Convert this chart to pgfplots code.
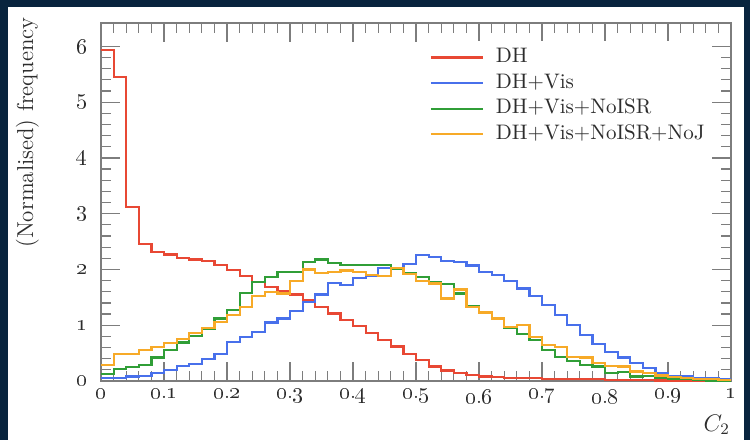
\documentclass[border=0pt]{standalone}
\usepackage{pgfplots}
\pgfplotsset{compat=1.18}
\definecolor{navyframe}{RGB}{8,36,62}
\definecolor{axgray}{RGB}{125,125,125}
\definecolor{labgray}{RGB}{45,45,45}
\definecolor{cred}{RGB}{232,72,52}
\definecolor{cblue}{RGB}{72,112,235}
\definecolor{cgreen}{RGB}{48,158,55}
\definecolor{corange}{RGB}{247,170,40}
\newcommand\osn[1]{\mbox{\oldstylenums{#1}}}
\newcommand\osd[2]{\mbox{\oldstylenums{#1}.\oldstylenums{#2}}}

\pgfplotstableread{
x y
0.00 5.93
0.02 5.45
0.04 3.12
0.06 2.45
0.08 2.32
0.10 2.27
0.12 2.21
0.14 2.18
0.16 2.15
0.18 2.08
0.20 1.99
0.22 1.88
0.24 1.78
0.26 1.69
0.28 1.61
0.30 1.55
0.32 1.45
0.34 1.32
0.36 1.21
0.38 1.10
0.40 0.99
0.42 0.86
0.44 0.74
0.46 0.62
0.48 0.49
0.50 0.37
0.52 0.26
0.54 0.19
0.56 0.14
0.58 0.11
0.60 0.08
0.62 0.07
0.64 0.06
0.66 0.05
0.68 0.05
0.70 0.04
0.72 0.04
0.74 0.03
0.76 0.03
0.78 0.03
0.80 0.02
0.82 0.02
0.84 0.02
0.86 0.02
0.88 0.01
0.90 0.01
0.92 0.01
0.94 0.01
0.96 0.01
0.98 0.01
1.00 0.01
}\dh

\pgfplotstableread{
x y
0.00 0.05
0.02 0.06
0.04 0.08
0.06 0.09
0.08 0.14
0.10 0.20
0.12 0.27
0.14 0.31
0.16 0.40
0.18 0.49
0.20 0.70
0.22 0.79
0.24 0.88
0.26 1.05
0.28 1.12
0.30 1.25
0.32 1.42
0.34 1.55
0.36 1.76
0.38 1.72
0.40 1.85
0.42 1.88
0.44 2.03
0.46 2.03
0.48 2.10
0.50 2.26
0.52 2.22
0.54 2.15
0.56 2.14
0.58 2.07
0.60 1.96
0.62 1.90
0.64 1.79
0.66 1.66
0.68 1.52
0.70 1.36
0.72 1.19
0.74 1.00
0.76 0.82
0.78 0.66
0.80 0.52
0.82 0.42
0.84 0.32
0.86 0.23
0.88 0.15
0.90 0.09
0.92 0.08
0.94 0.06
0.96 0.05
0.98 0.04
1.00 0.04
}\dhvis

\pgfplotstableread{
x y
0.00 0.13
0.02 0.21
0.04 0.25
0.06 0.29
0.08 0.42
0.10 0.55
0.12 0.69
0.14 0.80
0.16 0.94
0.18 1.12
0.20 1.28
0.22 1.58
0.24 1.78
0.26 1.86
0.28 1.96
0.30 1.95
0.32 2.14
0.34 2.18
0.36 2.12
0.38 2.08
0.40 2.08
0.42 2.08
0.44 2.08
0.46 2.01
0.48 1.94
0.50 1.86
0.52 1.77
0.54 1.74
0.56 1.57
0.58 1.34
0.60 1.24
0.62 1.12
0.64 0.96
0.66 0.85
0.68 0.73
0.70 0.55
0.72 0.43
0.74 0.36
0.76 0.28
0.78 0.26
0.80 0.15
0.82 0.16
0.84 0.08
0.86 0.09
0.88 0.06
0.90 0.04
0.92 0.03
0.94 0.02
0.96 0.01
0.98 0.01
1.00 0.01
}\noisr

\pgfplotstableread{
x y
0.00 0.28
0.02 0.48
0.04 0.48
0.06 0.55
0.08 0.61
0.10 0.68
0.12 0.76
0.14 0.86
0.16 0.95
0.18 1.06
0.20 1.18
0.22 1.32
0.24 1.52
0.26 1.60
0.28 1.57
0.30 1.80
0.32 2.00
0.34 1.94
0.36 1.96
0.38 1.98
0.40 1.95
0.42 1.90
0.44 1.88
0.46 2.03
0.48 1.92
0.50 1.80
0.52 1.75
0.54 1.48
0.56 1.64
0.58 1.33
0.60 1.23
0.62 1.12
0.64 0.97
0.66 1.00
0.68 0.79
0.70 0.64
0.72 0.61
0.74 0.43
0.76 0.42
0.78 0.33
0.80 0.27
0.82 0.26
0.84 0.17
0.86 0.14
0.88 0.10
0.90 0.07
0.92 0.05
0.94 0.04
0.96 0.03
0.98 0.02
1.00 0.02
}\noj

\begin{document}
\begin{tikzpicture}[x=1pt,y=1pt]
\fill[navyframe] (0,0) rectangle (375,220);
\fill[white] (4,0) rectangle (372,216.5);
\begin{axis}[
  at={(50.5pt,29.5pt)}, anchor=south west,
  scale only axis, width=315pt, height=179pt,
  xmin=0, xmax=1, ymin=0, ymax=6.42,
  axis line style={draw=axgray, line width=0.7pt},
  every tick/.style={axgray, line width=0.6pt},
  major tick length=9.5pt, minor tick length=5pt,
  tick align=inside,
  xtick={0,0.1,0.2,0.3,0.4,0.5,0.6,0.7,0.8,0.9,1},
  xticklabels={\osn{0},\osd{0}{1},\osd{0}{2},\osd{0}{3},\osd{0}{4},\osd{0}{5},\osd{0}{6},\osd{0}{7},\osd{0}{8},\osd{0}{9},\osn{1}},
  minor x tick num=4,
  ytick={0,1,2,3,4,5,6},
  yticklabels={\osn{0},\osn{1},\osn{2},\osn{3},\osn{4},\osn{5},\osn{6}},
  minor y tick num=4,
  tick label style={font=\fontsize{11}{13}\selectfont, text=labgray},
  yticklabel style={xshift=-3.5pt},
  xticklabel style={yshift=-0.5pt},
  ylabel={(Normalised) frequency},
  ylabel style={at={(axis description cs:-0.098,1.017)}, anchor=south east, font=\fontsize{11.5}{13}\selectfont, text=labgray, inner sep=0pt},
  xlabel={$C_2$},
  xlabel style={at={(axis description cs:1,-0.075)}, anchor=north east, xshift=3pt, font=\fontsize{11.5}{13}\selectfont, text=labgray},
  legend style={at={(rel axis cs:0.518,0.95)}, anchor=north west, draw=none, fill=white,
    font=\fontsize{10.5}{12}\selectfont, text=labgray, row sep=-1.4pt, inner sep=1pt,
    nodes={text height=7.6pt, text depth=2.6pt}},
  legend cell align=left,
  legend image code/.code={\draw[#1, line width=1.1pt] (0pt,0pt) -- (26pt,0pt); \path (30pt,0pt);},
  every axis plot/.append style={line width=1.1pt, const plot mark left, mark=none},
]
\addplot[cred] table[x=x,y=y] {\dh};
\addlegendentry{DH}
\addplot[cblue] table[x=x,y=y] {\dhvis};
\addlegendentry{DH+Vis}
\addplot[cgreen] table[x=x,y=y] {\noisr};
\addlegendentry{DH+Vis+NoISR}
\addplot[corange] table[x=x,y=y] {\noj};
\addlegendentry{DH+Vis+NoISR+NoJ}
\end{axis}
\pgfresetboundingbox
\path (0,0) rectangle (375,220);
\end{tikzpicture}
\end{document}
